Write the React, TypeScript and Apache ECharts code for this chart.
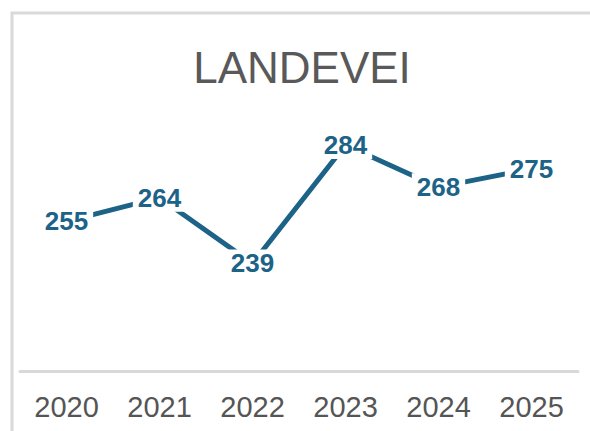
import React, { useEffect, useRef } from "react";
import * as echarts from "echarts";

const categories = ["2020", "2021", "2022", "2023", "2024", "2025"];
const values = [255, 264, 239, 284, 268, 275];
const titleText = "LANDEVEI";

const LINE_COLOR = "#1d6388";
const FONT = "'Liberation Sans', Arial, sans-serif";

export default function App() {
  const ref = useRef<HTMLDivElement>(null);
  useEffect(() => {
    if (!ref.current) return;
    const chart = echarts.init(ref.current, undefined, { renderer: "svg" });
    chart.setOption({
      animation: false,
      backgroundColor: "#ffffff",
      grid: { left: 20, right: 12, top: 103, bottom: 65, containLabel: false },
      graphic: [
        {
          type: "polyline",
          shape: { points: [[12, 445], [12, 13], [605, 13]] },
          style: { fill: "none", stroke: "#d9d9d9", lineWidth: 3 },
          silent: true,
        },
        {
          type: "text",
          x: 302,
          y: 67,
          style: {
            text: titleText,
            fill: "#595959",
            font: `44px ${FONT}`,
            textAlign: "center",
            textVerticalAlign: "middle",
          },
        },
      ],
      xAxis: {
        type: "category",
        data: categories,
        offset: 5,
        axisLine: { show: true, lineStyle: { color: "#d9d9d9", width: 3 } },
        axisTick: { show: false },
        axisLabel: {
          color: "#555555",
          fontSize: 29,
          fontFamily: FONT,
          margin: 21,
          interval: 0,
        },
      },
      yAxis: {
        type: "value",
        min: 200,
        max: 300,
        show: false,
        splitLine: { show: false },
      },
      series: [
        {
          type: "line",
          data: values,
          symbol: "circle",
          symbolSize: 0.1,
          itemStyle: { color: LINE_COLOR },
          lineStyle: { color: LINE_COLOR, width: 5 },
          label: {
            show: true,
            position: "inside",
            color: LINE_COLOR,
            fontSize: 26,
            fontWeight: "bold",
            fontFamily: FONT,
            backgroundColor: "#ffffff",
            padding: [1, 5],
          },
        },
      ],
    });
    return () => chart.dispose();
  }, []);
  return (
    <div
      ref={ref}
      style={{ position: "fixed", left: 0, top: 0, width: 590, height: 431 }}
    />
  );
}
